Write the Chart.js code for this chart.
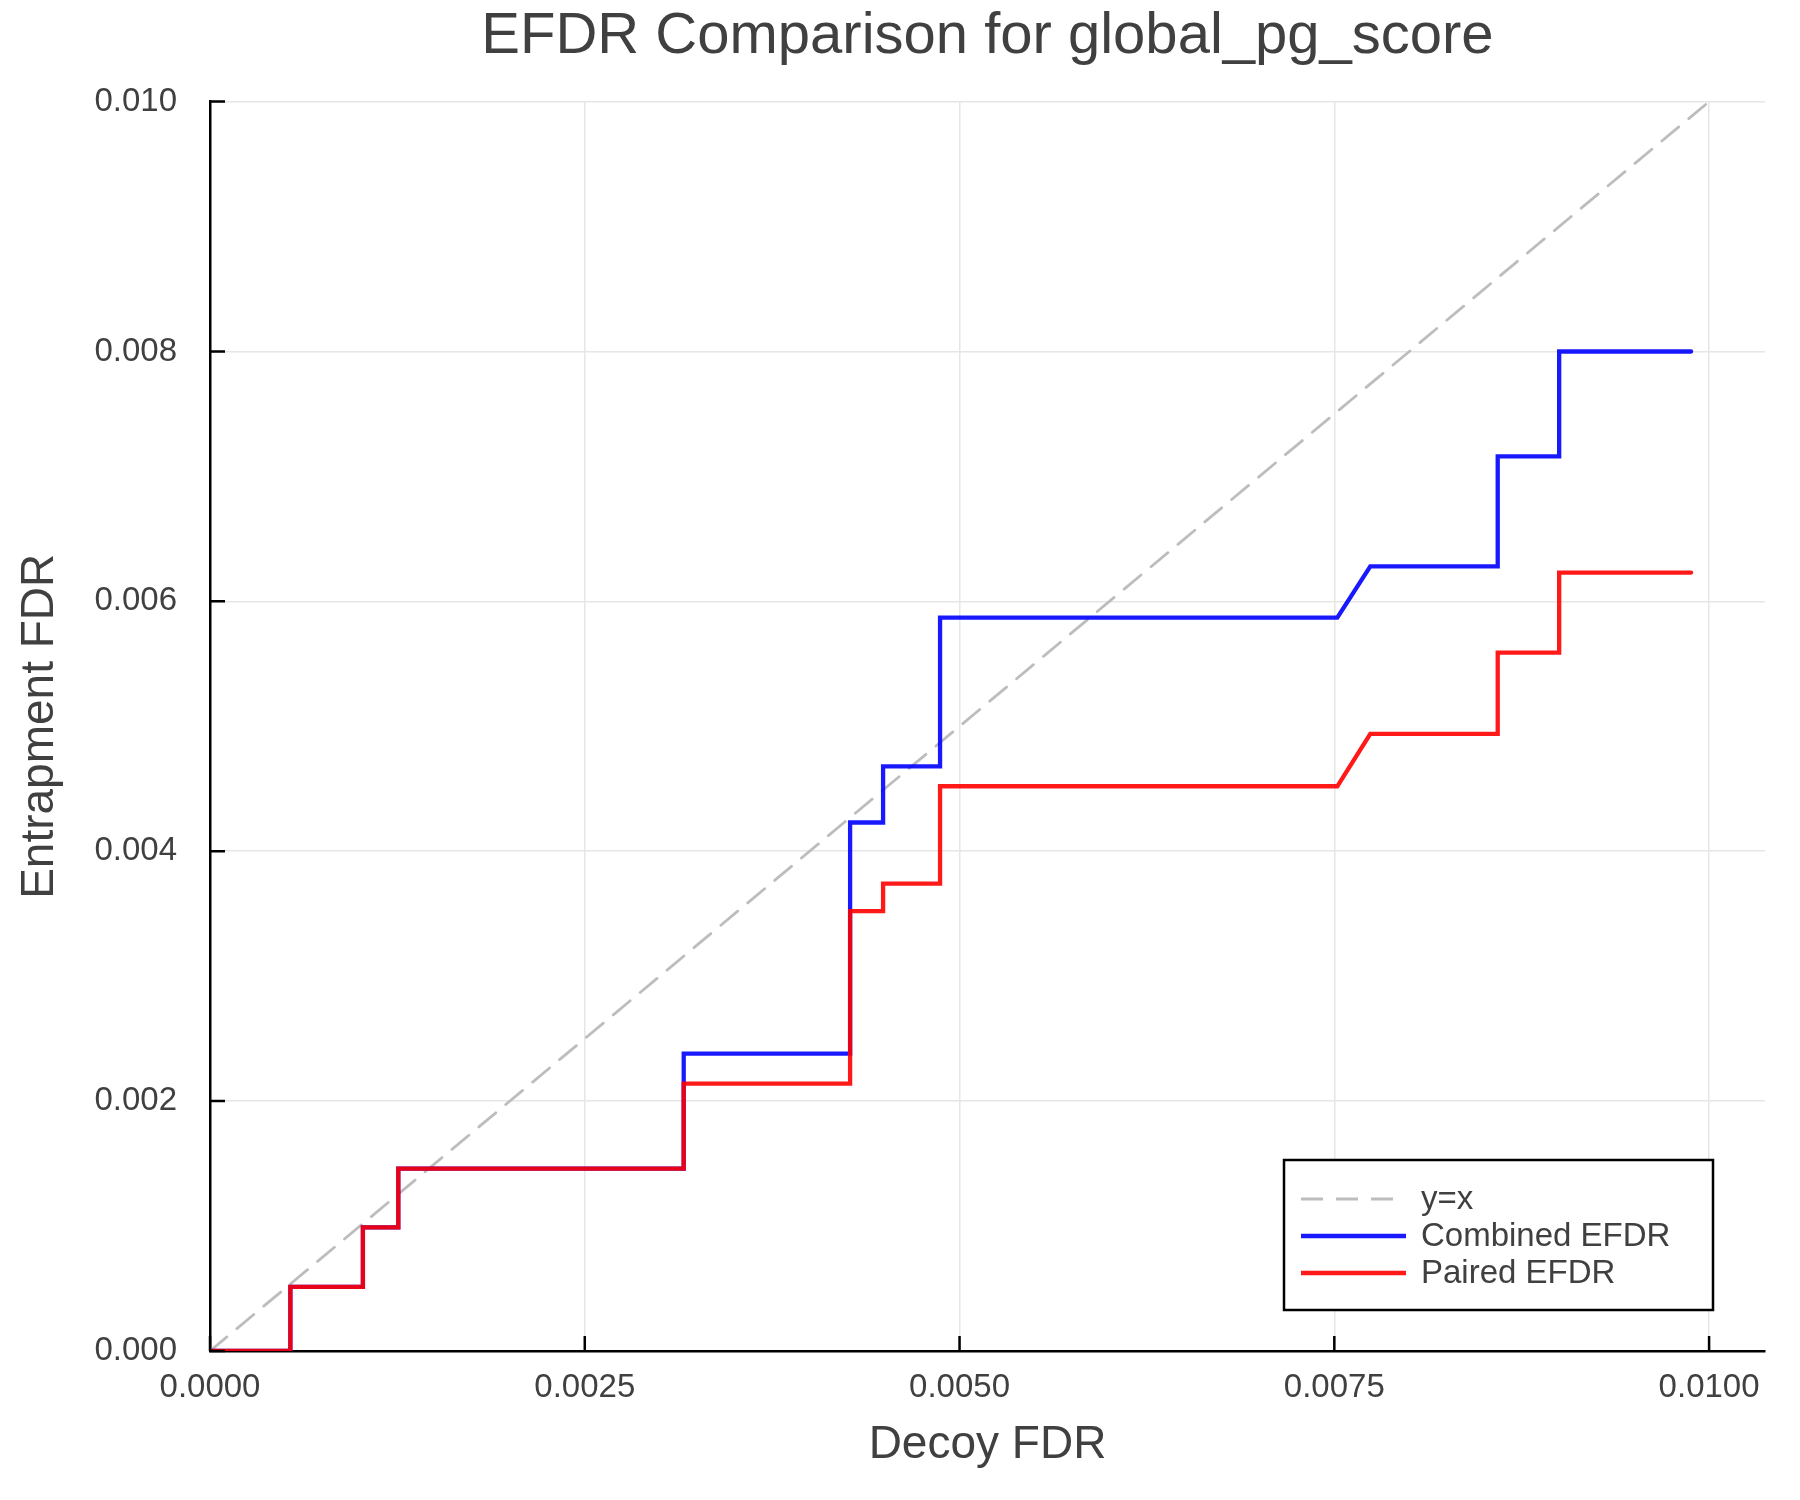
<!DOCTYPE html>
<html>
<head>
<meta charset="utf-8">
<script src="https://cdn.jsdelivr.net/npm/chart.js@4"></script>
<style>
  html, body { margin: 0; padding: 0; background: #fff; }
  canvas { display: block; }
</style>
</head>
<body>
<canvas id="efdrChart" width="1800" height="1500"></canvas>
<script>
// step points (x = decoy FDR)
const decoyFdr = [0, 0.000536, 0.000536, 0.00102, 0.00102, 0.001256, 0.001256, 0.00316, 0.00316,
  0.00427, 0.00427, 0.00449, 0.00449, 0.00487, 0.00487, 0.00752, 0.00774, 0.00859, 0.00859,
  0.00900, 0.00900, 0.00988];
const combinedEfdr = [0, 0, 0.000514, 0.000514, 0.00099, 0.00099, 0.00146, 0.00146, 0.00238,
  0.00238, 0.00423, 0.00423, 0.00468, 0.00468, 0.00587, 0.00587, 0.00628, 0.00628, 0.00716,
  0.00716, 0.00800, 0.00800];
const pairedEfdr = [0, 0, 0.000514, 0.000514, 0.00099, 0.00099, 0.00146, 0.00146, 0.00214,
  0.00214, 0.00352, 0.00352, 0.00374, 0.00374, 0.00452, 0.00452, 0.00494, 0.00494, 0.00559,
  0.00559, 0.00623, 0.00623];
const diagonal = [0, 0.01];

const xTicks = [0, 0.0025, 0.005, 0.0075, 0.01];
const xTickLabels = ["0.0000", "0.0025", "0.0050", "0.0075", "0.0100"];
const yTicks = [0, 0.002, 0.004, 0.006, 0.008, 0.01];
const yTickLabels = ["0.000", "0.002", "0.004", "0.006", "0.008", "0.010"];

const FONT = "'Liberation Sans', Arial, Helvetica, sans-serif";
const TEXT = "#404040";

function toPoints(xs, ys) {
  return xs.map((x, i) => ({ x, y: ys[i] }));
}

// Plots.jl style inward ticks
const innerTicks = {
  id: "innerTicks",
  afterDraw(chart) {
    const { ctx, chartArea, scales } = chart;
    ctx.save();
    ctx.strokeStyle = "#000";
    ctx.lineWidth = 2.5;
    ctx.beginPath();
    xTicks.forEach(v => {
      const px = scales.x.getPixelForValue(v);
      ctx.moveTo(px, chartArea.bottom);
      ctx.lineTo(px, chartArea.bottom - 15);
    });
    yTicks.forEach(v => {
      const py = scales.y.getPixelForValue(v);
      ctx.moveTo(chartArea.left, py);
      ctx.lineTo(chartArea.left + 15, py);
    });
    ctx.stroke();
    ctx.restore();
  }
};

// legend box in the lower right of the plot
const boxLegend = {
  id: "boxLegend",
  afterDraw(chart) {
    const { ctx } = chart;
    const left = 1284, top = 1160, right = 1713, bottom = 1310;
    ctx.save();
    ctx.fillStyle = "#fff";
    ctx.fillRect(left, top, right - left, bottom - top);
    ctx.strokeStyle = "#000";
    ctx.lineWidth = 2.5;
    ctx.strokeRect(left, top, right - left, bottom - top);
    ctx.font = "33px " + FONT;
    ctx.textBaseline = "middle";
    chart.data.datasets.forEach((ds, i) => {
      const y = 1199 + i * 37;
      ctx.beginPath();
      ctx.setLineDash(ds.borderDash || []);
      ctx.strokeStyle = ds.borderColor;
      ctx.lineWidth = ds.borderWidth;
      ctx.moveTo(1301, y);
      ctx.lineTo(1406, y);
      ctx.stroke();
      ctx.setLineDash([]);
      ctx.fillStyle = TEXT;
      ctx.fillText(ds.label, 1421, y + 1);
    });
    ctx.restore();
  }
};

new Chart(document.getElementById("efdrChart"), {
  type: "scatter",
  data: {
    datasets: [
      {
        label: "y=x",
        data: toPoints(diagonal, diagonal),
        borderColor: "#bdbdbd",
        borderWidth: 2.8,
        borderDash: [22, 13],
        order: 3
      },
      {
        label: "Combined EFDR",
        data: toPoints(decoyFdr, combinedEfdr),
        borderColor: "rgba(0,0,255,0.9)",
        borderWidth: 4.3,
        order: 2
      },
      {
        label: "Paired EFDR",
        data: toPoints(decoyFdr, pairedEfdr),
        borderColor: "rgba(255,0,0,0.9)",
        borderWidth: 4.3,
        order: 1
      }
    ]
  },
  options: {
    responsive: false,
    animation: false,
    devicePixelRatio: 1,
    showLine: true,
    elements: {
      point: { radius: 0, hoverRadius: 0 },
      line: { tension: 0, borderJoinStyle: "miter", borderCapStyle: "round", fill: false }
    },
    layout: { padding: { left: 0, right: 35, top: 0, bottom: 0 } },
    plugins: {
      legend: { display: false },
      tooltip: { enabled: false },
      title: {
        display: true,
        fullSize: false,
        text: "EFDR Comparison for global_pg_score",
        color: TEXT,
        font: { family: FONT, size: 58, weight: "normal" },
        padding: { top: 2, bottom: 30 }
      }
    },
    scales: {
      x: {
        type: "linear",
        min: 0,
        max: 0.010373,
        afterBuildTicks: s => { s.ticks = xTicks.map(v => ({ value: v })); },
        afterFit: s => { s.height = 149; },
        ticks: {
          color: TEXT,
          font: { family: FONT, size: 33 },
          padding: 17,
          maxRotation: 0,
          callback: v => xTickLabels[xTicks.indexOf(v)]
        },
        grid: { color: "#e6e6e6", lineWidth: 1.5, drawTicks: false },
        border: { display: true, color: "#000", width: 2.5 },
        title: {
          display: true,
          text: "Decoy FDR",
          color: TEXT,
          font: { family: FONT, size: 46 },
          padding: { top: 0, bottom: 27 }
        }
      },
      y: {
        type: "linear",
        min: 0,
        max: 0.01,
        afterBuildTicks: s => { s.ticks = yTicks.map(v => ({ value: v })); },
        afterFit: s => { s.width = 210; },
        ticks: {
          color: TEXT,
          font: { family: FONT, size: 33 },
          padding: 33,
          callback: v => yTickLabels[yTicks.indexOf(v)]
        },
        grid: { color: "#e6e6e6", lineWidth: 1.5, drawTicks: false },
        border: { display: true, color: "#000", width: 2.5 },
        title: {
          display: true,
          text: "Entrapment FDR",
          color: TEXT,
          font: { family: FONT, size: 46 },
          padding: { top: 13, bottom: 0 }
        }
      }
    }
  },
  plugins: [innerTicks, boxLegend]
});
</script>
</body>
</html>
